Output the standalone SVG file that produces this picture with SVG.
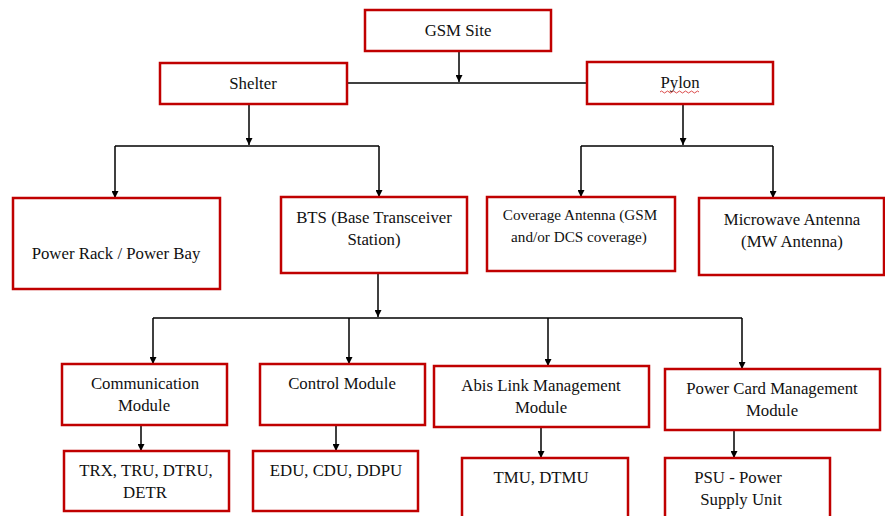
<svg xmlns="http://www.w3.org/2000/svg" width="885" height="516" viewBox="0 0 885 516">
<defs>
<marker id="arr" viewBox="0 0 10 10" refX="10" refY="5" markerWidth="7" markerHeight="7" markerUnits="userSpaceOnUse" orient="auto">
<path d="M0,0 L10,5 L0,10 z" fill="#000"/>
</marker>
<style>
.box{fill:#fff;stroke:#c00000;stroke-width:2.5}
.t{font-family:"Liberation Serif","Times New Roman",serif;font-size:16.8px;fill:#111;text-anchor:middle}
.s{font-size:15.2px}
.c{fill:none;stroke:#000;stroke-width:1.5}
.a{marker-end:url(#arr)}
</style>
</defs>
<rect width="885" height="516" fill="#fff"/>
<g id="connectors">
<path class="c a" d="M459,51 V82"/>
<path class="c" d="M347,83 H587"/>
<path class="c a" d="M249,104 V145"/>
<path class="c" d="M115,146 H379"/>
<path class="c a" d="M115,146 V198"/>
<path class="c a" d="M379,146 V197"/>
<path class="c a" d="M683,104 V145"/>
<path class="c" d="M581,146 H773"/>
<path class="c a" d="M581,146 V197"/>
<path class="c a" d="M773,146 V198"/>
<path class="c a" d="M378,273 V317"/>
<path class="c" d="M153,318 H742"/>
<path class="c a" d="M153,318 V364"/>
<path class="c a" d="M349,318 V364"/>
<path class="c a" d="M548,318 V366"/>
<path class="c a" d="M742,318 V369"/>
<path class="c a" d="M141,425 V451"/>
<path class="c a" d="M336,425 V451"/>
<path class="c a" d="M541,427 V458"/>
<path class="c a" d="M734,430 V458"/>
</g>
<g id="gsm"><rect class="box" x="365" y="10" width="186" height="41"/><text class="t" x="458" y="36">GSM Site</text></g>
<g id="shelter"><rect class="box" x="160" y="63" width="187" height="41"/><text class="t" x="253" y="89">Shelter</text></g>
<g id="pylon"><rect class="box" x="587" y="62" width="186" height="42"/><text class="t" x="680" y="88">Pylon</text>
<path d="M660,92 q1.5,-2 3,0 t3,0 t3,0 t3,0 t3,0 t3,0 t3,0 t3,0 t3,0 t3,0 t3,0 t3,0 t3,0" fill="none" stroke="#d02020" stroke-width="0.8"/></g>
<g id="powerrack"><rect class="box" x="13" y="198" width="207" height="91"/><text class="t" x="116" y="259">Power Rack / Power Bay</text></g>
<g id="bts"><rect class="box" x="281" y="197" width="186" height="76"/><text class="t" x="374" y="223">BTS (Base Transceiver</text><text class="t" x="374" y="245">Station)</text></g>
<g id="coverage"><rect class="box" x="487" y="197" width="188" height="74"/><text class="t s" x="580" y="220">Coverage Antenna (GSM</text><text class="t s" x="579" y="242">and/or DCS coverage)</text></g>
<g id="microwave"><rect class="box" x="699" y="198" width="185" height="77"/><text class="t" x="792" y="225">Microwave Antenna</text><text class="t" x="792" y="247">(MW Antenna)</text></g>
<g id="comm"><rect class="box" x="62" y="364" width="165" height="61"/><text class="t" x="145" y="389">Communication</text><text class="t" x="144" y="411">Module</text></g>
<g id="control"><rect class="box" x="260" y="364" width="165" height="61"/><text class="t" x="342" y="389">Control Module</text></g>
<g id="abis"><rect class="box" x="434" y="366" width="215" height="61"/><text class="t" x="541" y="391">Abis Link Management</text><text class="t" x="541" y="413">Module</text></g>
<g id="powercard"><rect class="box" x="665" y="369" width="215" height="61"/><text class="t" x="772" y="394">Power Card Management</text><text class="t" x="772" y="416">Module</text></g>
<g id="trx"><rect class="box" x="64" y="451" width="165" height="60"/><text class="t" x="146" y="476">TRX, TRU, DTRU,</text><text class="t" x="145" y="498">DETR</text></g>
<g id="edu"><rect class="box" x="253" y="451" width="165" height="60"/><text class="t" x="336" y="476">EDU, CDU, DDPU</text></g>
<g id="tmu"><rect class="box" x="462" y="458" width="166" height="62"/><text class="t" x="541" y="483">TMU, DTMU</text></g>
<g id="psu"><rect class="box" x="665" y="458" width="165" height="62"/><text class="t" x="738" y="483">PSU - Power</text><text class="t" x="741" y="505">Supply Unit</text></g>
</svg>
